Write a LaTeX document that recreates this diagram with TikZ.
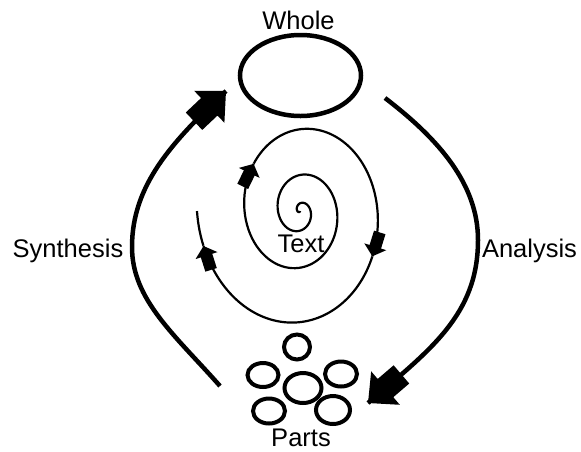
\documentclass[tikz,border=0pt]{standalone}
\usepackage{fontspec}
\setmainfont{Liberation Sans}
\usetikzlibrary{shapes.geometric,decorations.markings}

\tikzset{
  ring/.style={draw, ellipse, line width=4pt, inner sep=0pt},
  word/.style={font=\fontsize{25.5}{30}\selectfont, inner sep=0pt, anchor=base},
  bigline/.style={line width=4.5pt},
  spiralline/.style={line width=2.2pt},
  bighead/.style={postaction={decorate}, decoration={markings,
    mark=at position 1 with {\fill (0pt,0pt) -- (-23pt,22pt) -- (-23pt,12pt) -- (-44pt,12pt)
      -- (-44pt,-12pt) -- (-23pt,-12pt) -- (-23pt,-22pt) -- cycle;}}},
  smallhead/.style={postaction={decorate}, decoration={markings,
    mark=at position 1 with {\fill (0pt,0pt) -- (-10pt,11.5pt) -- (-10pt,6pt) -- (-25pt,6pt)
      -- (-25pt,-6pt) -- (-10pt,-6pt) -- (-10pt,-11.5pt) -- cycle;}}},
}

\begin{document}
\begin{tikzpicture}[x=1pt, y=-1pt,
    declare function={sw(\t)=4.41*\t+1.76*\t*\t; sh(\t)=5.5*\t+2.17*\t*\t;}]
  \useasboundingbox (0,0) rectangle (581,451);

  % the whole
  \node[ring, line width=4.5pt, minimum width=121pt, minimum height=81pt] (whole) at (300.5,75.5) {};
  \node[word] (whole label) at (298.5,29) {Whole};

  % the parts
  \node[ring, minimum width=26pt, minimum height=25pt] (part top) at (297,347) {};
  \node[ring, minimum width=31pt, minimum height=24pt] (part left) at (263,375) {};
  \node[ring, minimum width=32pt, minimum height=25pt] (part right) at (341,374) {};
  \node[ring, minimum width=37pt, minimum height=30pt] (part mid) at (303,388) {};
  \node[ring, minimum width=32pt, minimum height=25pt] (part low left) at (269,411) {};
  \node[ring, minimum width=34pt, minimum height=28pt] (part low right) at (333,410) {};
  \node[word] (parts label) at (301,446) {Parts};

  % synthesis and analysis
  \coordinate (synthesis start) at (220,386);
  \coordinate (synthesis mid) at (132,247);
  \coordinate (synthesis end) at (226,91);
  \draw[bigline, bighead] (synthesis start) .. controls (175,335) and (132,300) .. (synthesis mid)
    .. controls (132,185) and (172,142) .. (synthesis end);
  \node[word] (synthesis label) at (68,257) {Synthesis};

  \coordinate (analysis start) at (385,98);
  \coordinate (analysis mid) at (478,240);
  \coordinate (analysis end) at (368,403);
  \draw[bigline, bighead] (analysis start) .. controls (440,140) and (478,185) .. (analysis mid)
    .. controls (478,315) and (430,350) .. (analysis end);
  \node[word] (analysis label) at (529.5,257) {Analysis};

  % spiral
  \foreach \a/\b in {0/4.72, 4.72/5.65, 5.65/6.41}
    \draw[spiralline, smallhead] plot[domain=\a:\b, samples=200, variable=\u]
      ({300+sw(\u)*cos(180*(\u-1.5))}, {211+sh(\u)*sin(180*(\u-1.5))});
  \draw[spiralline] plot[domain=6.41:6.5, samples=20, variable=\u]
    ({300+sw(\u)*cos(180*(\u-1.5))}, {211+sh(\u)*sin(180*(\u-1.5))});
  \node[word] (text label) at (301,252) {Text};
\end{tikzpicture}
\end{document}
